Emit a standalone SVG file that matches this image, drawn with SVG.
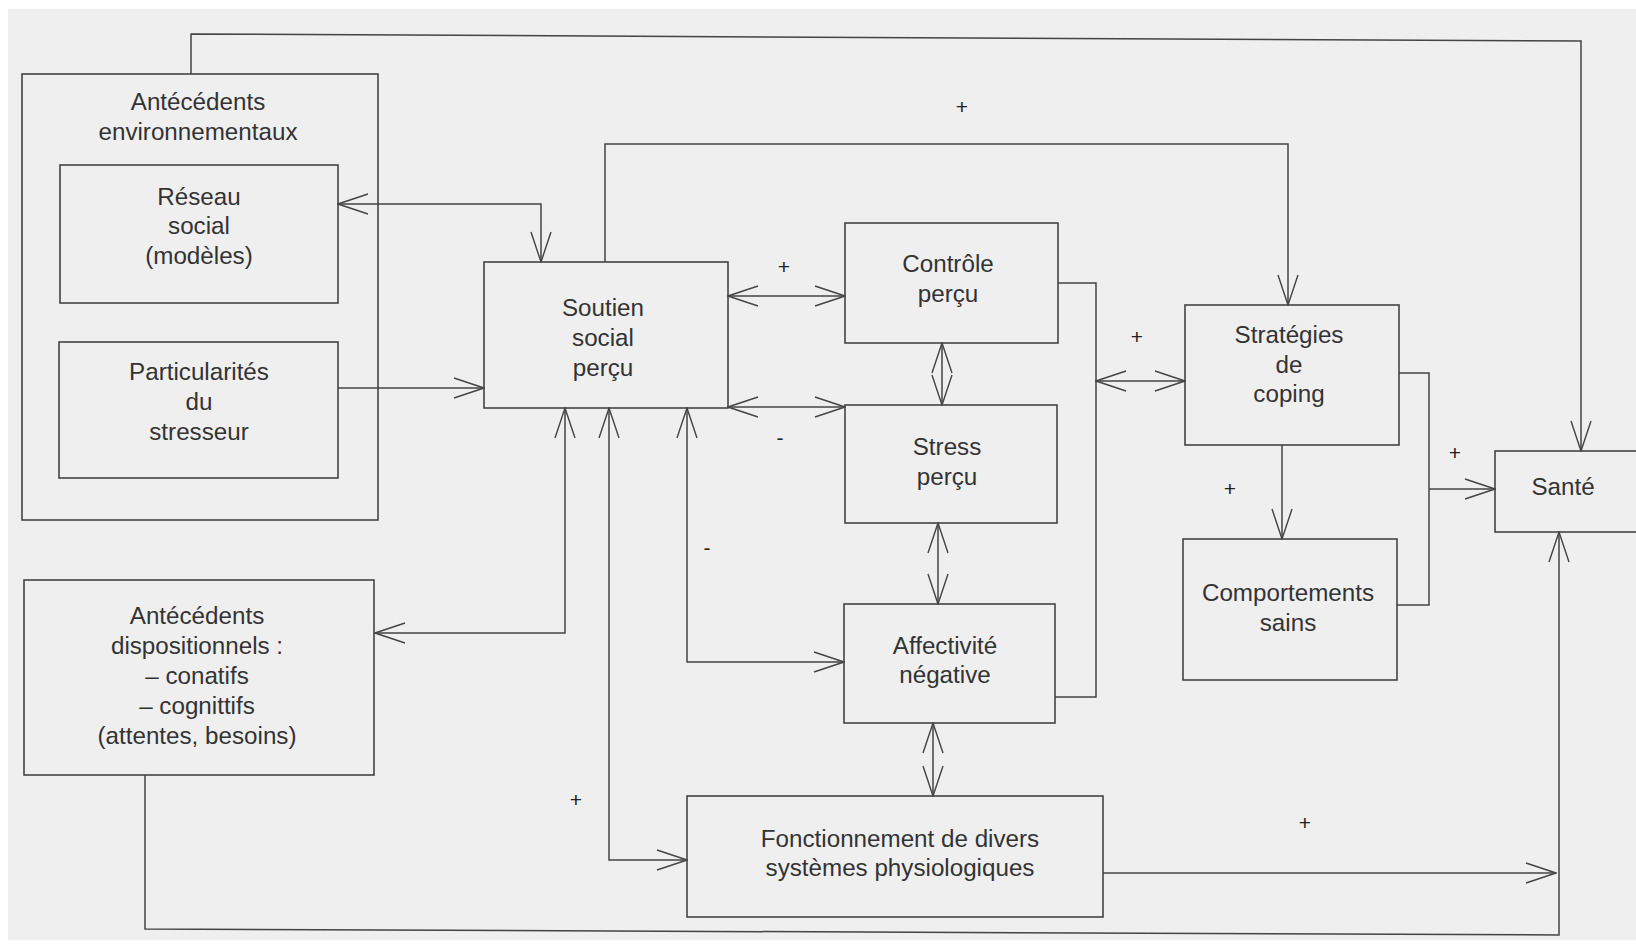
<svg xmlns="http://www.w3.org/2000/svg" width="1636" height="944" viewBox="0 0 1636 944">
<style>
.box{fill:none;stroke:#444;stroke-width:1.6}
.ln{fill:none;stroke:#444;stroke-width:1.5}
.t{font-family:"Liberation Sans",Arial,sans-serif;font-size:24.2px;fill:#333;text-anchor:middle}
.s{font-family:"Liberation Sans",Arial,sans-serif;font-size:21px;fill:#222;text-anchor:middle}
</style>
<defs>
<marker id="ah" viewBox="0 0 32 22" markerWidth="32" markerHeight="22" refX="31" refY="11" orient="auto-start-reverse" markerUnits="userSpaceOnUse">
<path d="M1,1 L31,11 L1,21" fill="none" stroke="#444" stroke-width="1.4"/>
</marker>
</defs>
<rect x="0" y="0" width="1636" height="944" fill="#ffffff"/>
<rect x="8" y="9" width="1628" height="931" fill="#efefef"/>

<g id="connectors">
<path class="ln" d="M191,74 V34 L1581,41 V451" marker-end="url(#ah)"/>
<path class="ln" d="M605,262 V144 H1288 V305" marker-end="url(#ah)"/>
<path class="ln" d="M338,204 H541 V262" marker-start="url(#ah)" marker-end="url(#ah)"/>
<path class="ln" d="M338,388 H484" marker-end="url(#ah)"/>
<path class="ln" d="M728,296 H845" marker-start="url(#ah)" marker-end="url(#ah)"/>
<path class="ln" d="M728,407 H845" marker-start="url(#ah)" marker-end="url(#ah)"/>
<path class="ln" d="M942,343 V405" marker-start="url(#ah)" marker-end="url(#ah)"/>
<path class="ln" d="M938,523 V604" marker-start="url(#ah)" marker-end="url(#ah)"/>
<path class="ln" d="M933,723 V796" marker-start="url(#ah)" marker-end="url(#ah)"/>
<path class="ln" d="M1058,283 H1096 V697 H1055"/>
<path class="ln" d="M1096,381 H1185" marker-start="url(#ah)" marker-end="url(#ah)"/>
<path class="ln" d="M1282,445 V539" marker-end="url(#ah)"/>
<path class="ln" d="M1399,373 H1429 V605 H1397"/>
<path class="ln" d="M1429,489 H1495" marker-end="url(#ah)"/>
<path class="ln" d="M145,775 V929 L1559,935 V532" marker-end="url(#ah)"/>
<path class="ln" d="M1103,873 H1556" marker-end="url(#ah)"/>
<path class="ln" d="M565,408 V633 H375" marker-start="url(#ah)" marker-end="url(#ah)"/>
<path class="ln" d="M609,408 V860 H687" marker-start="url(#ah)" marker-end="url(#ah)"/>
<path class="ln" d="M687,408 V662 H844" marker-start="url(#ah)" marker-end="url(#ah)"/>
<text class="s" x="962" y="114">+</text>
<text class="s" x="784" y="274">+</text>
<text class="s" x="780" y="445">-</text>
<text class="s" x="1137" y="344">+</text>
<text class="s" x="1230" y="496">+</text>
<text class="s" x="1455" y="460">+</text>
<text class="s" x="576" y="807">+</text>
<text class="s" x="707" y="555">-</text>
<text class="s" x="1305" y="830">+</text>
</g>

<g id="env">
<rect class="box" x="22" y="74" width="356" height="446"/>
<text class="t" x="198" y="110">Antécédents</text>
<text class="t" x="198" y="140">environnementaux</text>
</g>
<g id="reseau">
<rect class="box" x="60" y="165" width="278" height="138"/>
<text class="t" x="199" y="205">Réseau</text>
<text class="t" x="199" y="234">social</text>
<text class="t" x="199" y="264">(modèles)</text>
</g>
<g id="particularites">
<rect class="box" x="59" y="342" width="279" height="136"/>
<text class="t" x="199" y="380">Particularités</text>
<text class="t" x="199" y="410">du</text>
<text class="t" x="199" y="440">stresseur</text>
</g>
<g id="dispositionnels">
<rect class="box" x="24" y="580" width="350" height="195"/>
<text class="t" x="197" y="624">Antécédents</text>
<text class="t" x="197" y="654">dispositionnels :</text>
<text class="t" x="197" y="684">– conatifs</text>
<text class="t" x="197" y="714">– cognittifs</text>
<text class="t" x="197" y="744">(attentes, besoins)</text>
</g>
<g id="soutien">
<rect class="box" x="484" y="262" width="244" height="146"/>
<text class="t" x="603" y="316">Soutien</text>
<text class="t" x="603" y="346">social</text>
<text class="t" x="603" y="376">perçu</text>
</g>
<g id="controle">
<rect class="box" x="845" y="223" width="213" height="120"/>
<text class="t" x="948" y="272">Contrôle</text>
<text class="t" x="948" y="302">perçu</text>
</g>
<g id="stress">
<rect class="box" x="845" y="405" width="212" height="118"/>
<text class="t" x="947" y="455">Stress</text>
<text class="t" x="947" y="485">perçu</text>
</g>
<g id="affectivite">
<rect class="box" x="844" y="604" width="211" height="119"/>
<text class="t" x="945" y="654">Affectivité</text>
<text class="t" x="945" y="683">négative</text>
</g>
<g id="fonctionnement">
<rect class="box" x="687" y="796" width="416" height="121"/>
<text class="t" x="900" y="847">Fonctionnement de divers</text>
<text class="t" x="900" y="876">systèmes physiologiques</text>
</g>
<g id="strategies">
<rect class="box" x="1185" y="305" width="214" height="140"/>
<text class="t" x="1289" y="343">Stratégies</text>
<text class="t" x="1289" y="373">de</text>
<text class="t" x="1289" y="402">coping</text>
</g>
<g id="comportements">
<rect class="box" x="1183" y="539" width="214" height="141"/>
<text class="t" x="1288" y="601">Comportements</text>
<text class="t" x="1288" y="631">sains</text>
</g>
<g id="sante">
<rect class="box" x="1495" y="451" width="160" height="81"/>
<text class="t" x="1563" y="495">Santé</text>
</g>
</svg>
